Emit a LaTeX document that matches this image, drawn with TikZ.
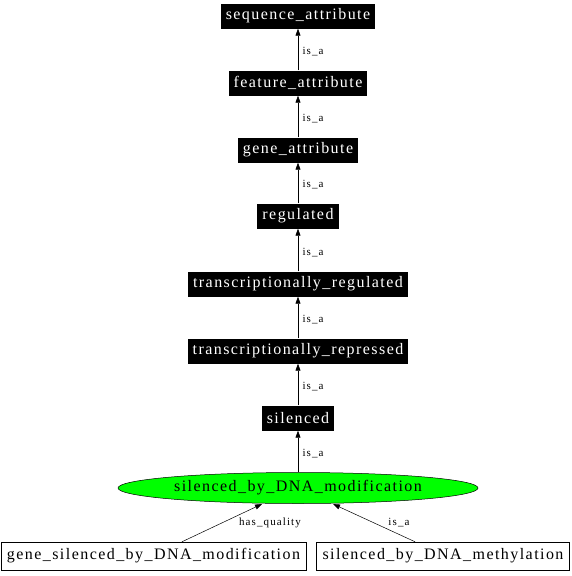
\documentclass[tikz,border=0pt]{standalone}
\usepackage{fontspec}
\setmainfont{Liberation Serif}
\newfontfamily\nodefont[LetterSpace=9]{Liberation Serif}
\newfontfamily\relfont[LetterSpace=10]{Liberation Serif}
\usetikzlibrary{arrows.meta, positioning, shapes.geometric}

\begin{document}
\begin{tikzpicture}[
  x=1pt, y=-1pt,
  term/.style={
    fill=black, text=white, font=\nodefont\fontsize{16}{18}\selectfont,
    minimum height=25pt, inner xsep=5pt, inner ysep=0pt
  },
  leaf/.style={
    draw, fill=white, font=\nodefont\fontsize{16}{18}\selectfont,
    minimum height=28pt, inner xsep=6pt, inner ysep=0pt, line width=0.5pt
  },
  focus/.style={
    draw, ellipse, fill=green, font=\nodefont\fontsize{16}{18}\selectfont,
    minimum width=360pt, minimum height=31pt, inner sep=0pt, line width=0.5pt
  },
  rel/.style={font=\relfont\fontsize{11}{12}\selectfont},
  isa/.style={-{Triangle[length=7pt, width=5pt]}, line width=0.5pt}
]
\useasboundingbox (0,0) rectangle (572,576);

% ============ chain of terms ============
\node[term] (seqattr) at (298,16) {sequence\_attribute};
\node[term] (featattr) at (298,83) {feature\_attribute};
\node[term] (geneattr) at (298,150) {gene\_attribute};
\node[term] (regulated) at (298,216) {regulated};
\node[term] (txreg) at (298,284) {transcriptionally\_regulated};
\node[term] (txrep) at (298,351) {transcriptionally\_repressed};
\node[term] (silenced) at (298,418) {silenced};

% ============ focus term ============
\node[focus] (sbdm) at (298,488) {silenced\_by\_DNA\_modification};

% ============ children ============
\node[leaf] (genesbdm) at (153.5,556) {gene\_silenced\_by\_DNA\_modification};
\node[leaf] (sbdmeth) at (443,556) {silenced\_by\_DNA\_methylation};

% is_a chain
\foreach \lo/\hi in {featattr/seqattr, geneattr/featattr, regulated/geneattr,
  txreg/regulated, txrep/txreg, silenced/txrep, sbdm/silenced}{
  \draw[isa] (\lo) -- node[rel, right=1pt, pos=0.45] {is\_a} (\hi);
}

% children -> focus
\coordinate (hqend) at (262,504);
\coordinate (isaend) at (333,504);
\draw[isa] (genesbdm.north -| 182,0) -- (hqend);
\node[rel] (hqlabel) at (270,523) {has\_quality};
\draw[isa] (sbdmeth.north -| 415,0) -- (isaend);
\node[rel] (isalabel) at (399,523) {is\_a};

\end{tikzpicture}
\end{document}
